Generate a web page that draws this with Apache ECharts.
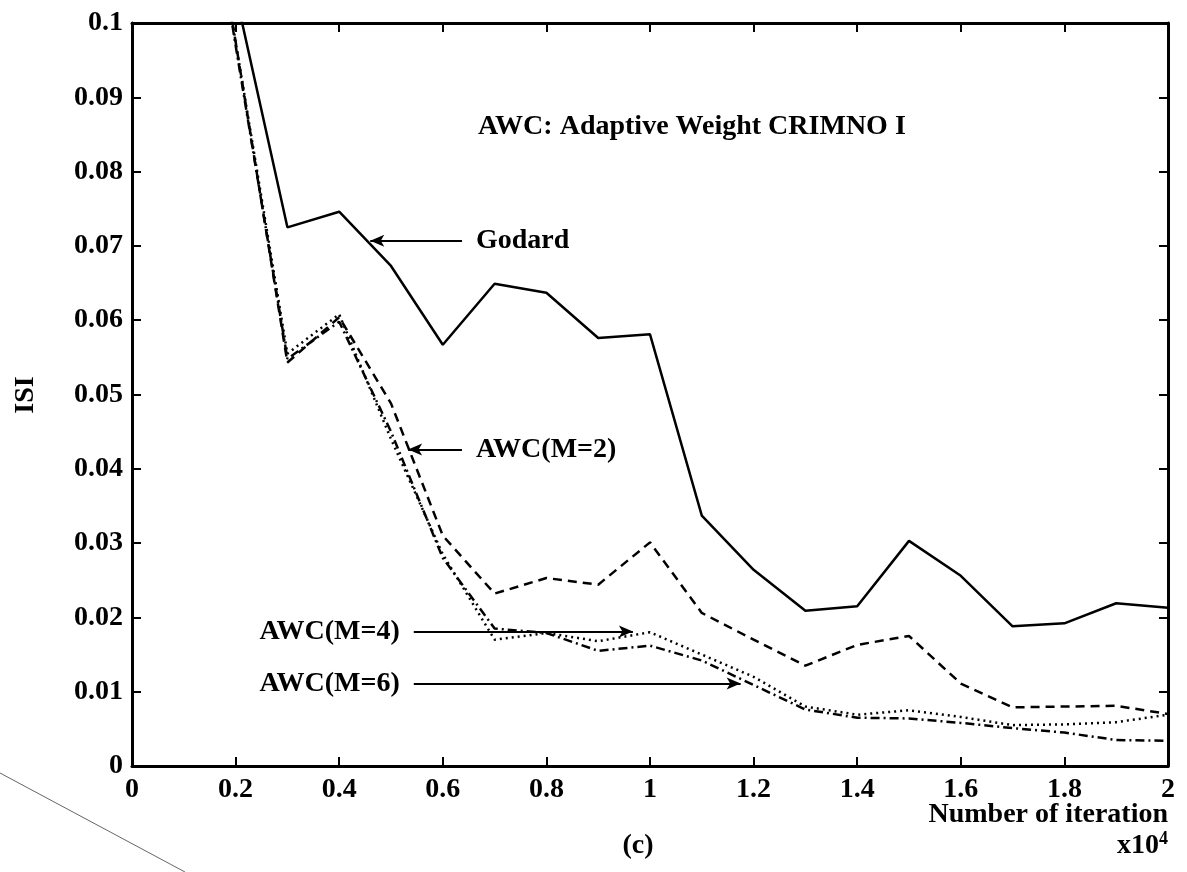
<!DOCTYPE html>
<html>
<head>
<meta charset="utf-8">
<script src="https://cdn.jsdelivr.net/npm/echarts@6/dist/echarts.min.js"></script>
<style>
html,body{margin:0;padding:0;background:#fff;}
#chart{width:1187px;height:872px;}
</style>
</head>
<body>
<div id="chart"></div>
<script>
// iterations (x10^4)
var iterations = [0.1,0.2,0.3,0.4,0.5,0.6,0.7,0.8,0.9,1.0,1.1,1.2,1.3,1.4,1.5,1.6,1.7,1.8,1.9,2.0];
var godard = [0.135,0.104,0.0725,0.0746,0.0673,0.0567,0.0649,0.0637,0.0576,0.0581,0.0337,0.0264,0.0209,0.0215,0.0303,0.0256,0.0188,0.0192,0.0219,0.0213];
var awcM2  = [0.140,0.0975,0.0543,0.0604,0.0488,0.0310,0.0232,0.0253,0.0244,0.0301,0.0206,0.0170,0.0135,0.0163,0.0175,0.0111,0.0079,0.0080,0.0081,0.0070];
var awcM4  = [0.140,0.0975,0.0555,0.0608,0.0440,0.0285,0.0170,0.0179,0.0168,0.0180,0.0150,0.0120,0.0080,0.0069,0.0075,0.0066,0.0055,0.0056,0.0059,0.0069];
var awcM6  = [0.140,0.0970,0.0548,0.0598,0.0450,0.0280,0.0185,0.0179,0.0155,0.0162,0.0142,0.0109,0.0076,0.0065,0.0064,0.0058,0.0051,0.0045,0.0035,0.0034];

var xTickLabels = ['0','0.2','0.4','0.6','0.8','1','1.2','1.4','1.6','1.8','2'];
var yTickLabels = ['0','0.01','0.02','0.03','0.04','0.05','0.06','0.07','0.08','0.09','0.1'];

// annotation arrows: [label, x start, x end, y]
var arrowGodard = ['Godard', 0.637, 0.46, 0.0707];
var arrowM2 = ['AWC(M=2)', 0.637, 0.533, 0.0426];
var arrowM4 = ['AWC(M=4)', 0.544, 0.967, 0.0181];
var arrowM6 = ['AWC(M=6)', 0.544, 1.175, 0.0111];

var FONT = 'Liberation Serif';
var FS = 28;
var FW = 'bold';
var CSSFONT = 'bold 28px "Liberation Serif"';

function pairs(ys){ return iterations.map(function(x,i){ return [x, ys[i]]; }); }

function arrow(a){
  return {
    silent: true,
    animation: false,
    symbol: ['none','arrow'],
    symbolSize: [9, 14],
    lineStyle: {type:'solid', width:2.2, color:'#000'},
    label: {show:true, position:'start', distance:14, formatter:a[0], fontFamily:FONT, fontSize:FS, fontWeight:FW, color:'#000'},
    emphasis: {disabled:true},
    data: [[{coord:[a[1], a[3]]}, {coord:[a[2], a[3]]}]]
  };
}

function lineSeries(name, ys, type, mark){
  return {
    name: name, type: 'line', data: pairs(ys), showSymbol: false, symbol: 'none',
    clip: true, animation: false, xAxisIndex: 0, yAxisIndex: 0,
    lineStyle: {color:'#000', width:2.5, type: type},
    markLine: arrow(mark)
  };
}

var axisTxt = {fontFamily:FONT, fontSize:FS, fontWeight:FW, color:'#000'};
var chart = echarts.init(document.getElementById('chart'), null, {renderer:'canvas'});
chart.setOption({
  backgroundColor: '#fff',
  animation: false,
  grid: {left:132, right:19, top:23, bottom:106, containLabel:false},
  xAxis: [{
    type:'value', min:0, max:2, interval:0.2, position:'bottom',
    axisLine:{show:true, onZero:false, lineStyle:{color:'#000', width:3}},
    axisTick:{show:true, inside:true, length:9, lineStyle:{color:'#000', width:2}},
    axisLabel:Object.assign({margin:10, formatter:function(v){ return xTickLabels[Math.round(v/0.2)]; }}, axisTxt),
    splitLine:{show:false}
  },{
    type:'value', min:0, max:2, interval:0.2, position:'top',
    axisLine:{show:true, onZero:false, lineStyle:{color:'#000', width:3}},
    axisTick:{show:true, inside:true, length:9, lineStyle:{color:'#000', width:2}},
    axisLabel:{show:false}, splitLine:{show:false}
  }],
  yAxis: [{
    type:'value', min:0, max:0.1, interval:0.01, position:'left',
    axisLine:{show:true, onZero:false, lineStyle:{color:'#000', width:3}},
    axisTick:{show:true, inside:true, length:9, lineStyle:{color:'#000', width:2}},
    axisLabel:Object.assign({margin:9, formatter:function(v){ return yTickLabels[Math.round(v/0.01)]; }}, axisTxt),
    splitLine:{show:false}
  },{
    type:'value', min:0, max:0.1, interval:0.01, position:'right',
    axisLine:{show:true, onZero:false, lineStyle:{color:'#000', width:3}},
    axisTick:{show:true, inside:true, length:9, lineStyle:{color:'#000', width:2}},
    axisLabel:{show:false}, splitLine:{show:false}
  }],
  series: [
    lineSeries('Godard', godard, 'solid', arrowGodard),
    lineSeries('AWC(M=2)', awcM2, [9,6], arrowM2),
    lineSeries('AWC(M=4)', awcM4, [2,4], arrowM4),
    lineSeries('AWC(M=6)', awcM6, [9,4,2,4], arrowM6)
  ],
  graphic: [
    {type:'text', x:478, y:127, style:{text:'AWC: Adaptive Weight CRIMNO I', font:CSSFONT, fill:'#000', verticalAlign:'middle'}},
    {type:'text', x:26, y:395, rotation:Math.PI/2, style:{text:'ISI', font:CSSFONT, fill:'#000', align:'center', verticalAlign:'middle'}},
    {type:'text', x:1168, y:815, style:{text:'Number of iteration', font:CSSFONT, fill:'#000', align:'right', verticalAlign:'middle'}},
    {type:'text', x:1168, y:846, style:{text:'{a|x10}{b|4}', align:'right', verticalAlign:'middle', fill:'#000',
      rich:{a:{fontFamily:FONT, fontSize:28, fontWeight:FW, fill:'#000'}, b:{fontFamily:FONT, fontSize:18, fontWeight:FW, fill:'#000', verticalAlign:'top', padding:[0,0,14,0]}}}},
    {type:'text', x:638, y:846, style:{text:'(c)', font:CSSFONT, fill:'#000', align:'center', verticalAlign:'middle'}},
    {type:'line', shape:{x1:0, y1:773, x2:185, y2:872}, style:{stroke:'#666', lineWidth:1}}
  ]
});
</script>
</body>
</html>
